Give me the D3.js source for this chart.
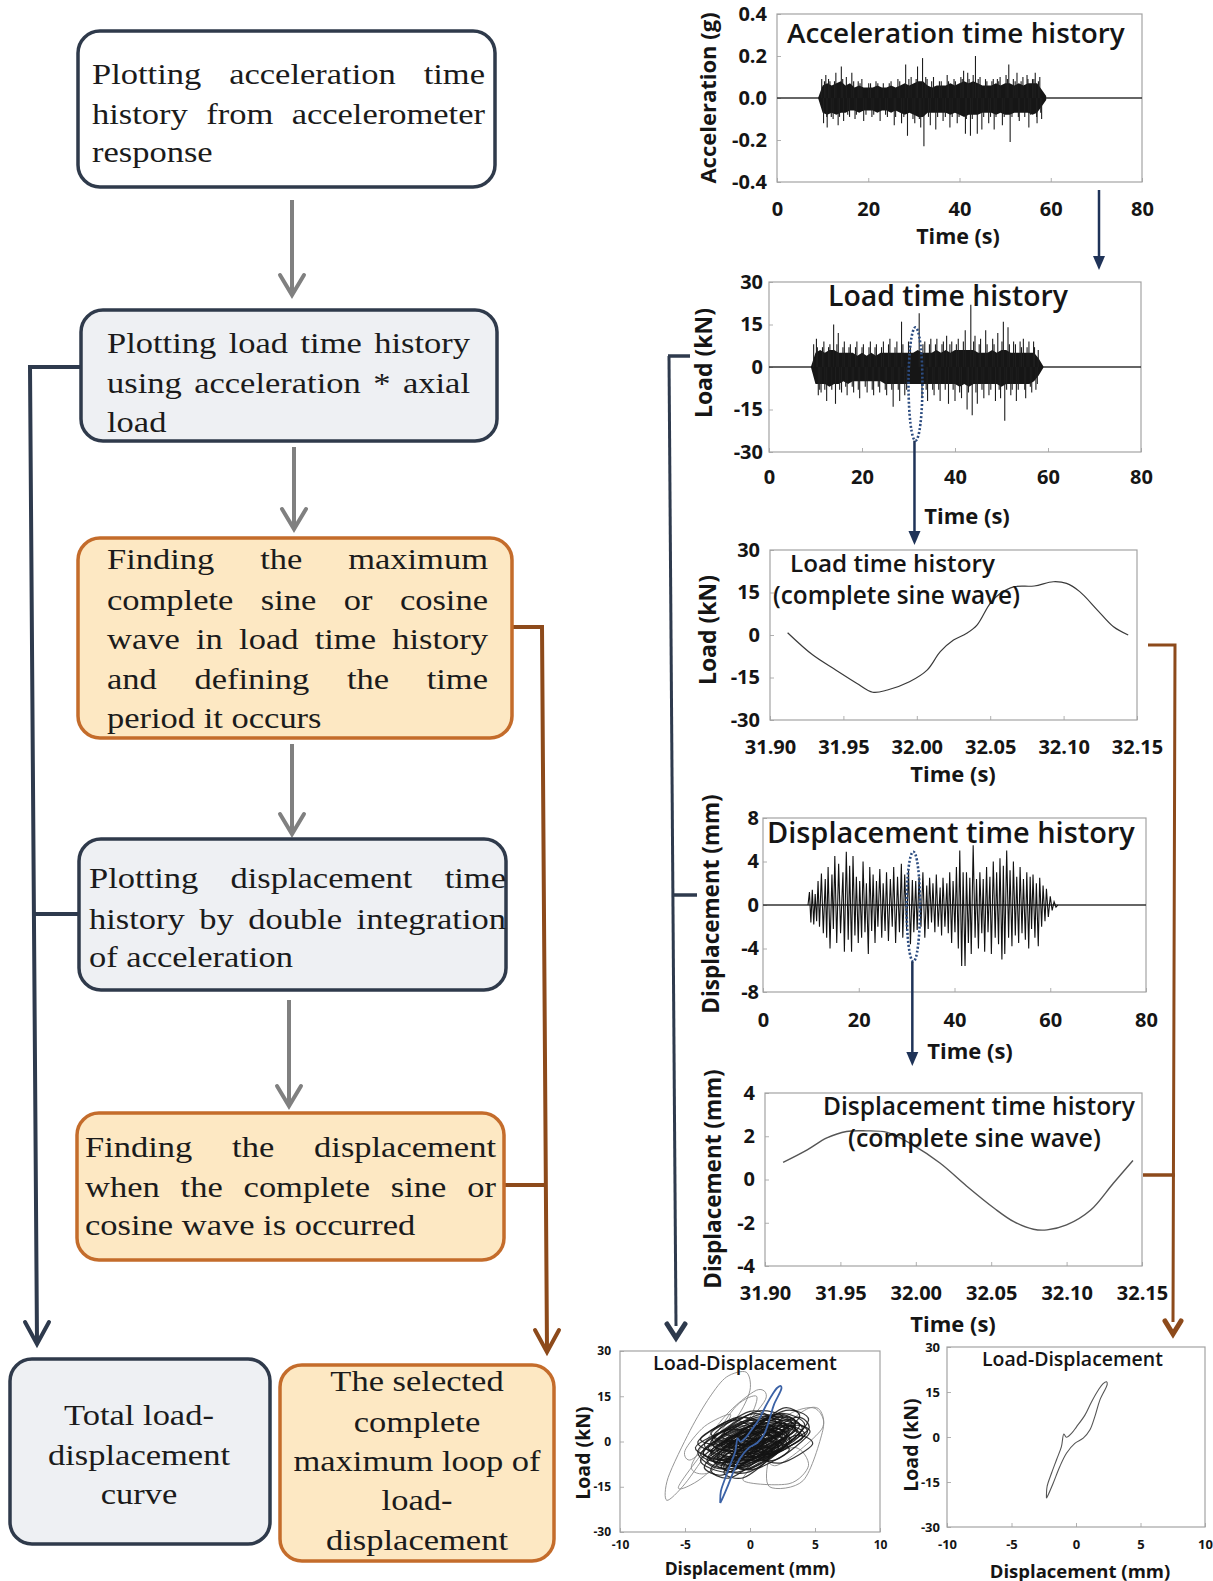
<!DOCTYPE html>
<html>
<head>
<meta charset="utf-8">
<script src="https://cdnjs.cloudflare.com/ajax/libs/d3/7.8.5/d3.min.js"></script>
<style>
  html, body { margin: 0; padding: 0; background: #ffffff; }
  svg { display: block; }
</style>
</head>
<body>
<script>
// ---------------- data ----------------
// Acceleration time history (g): dense band envelope sampled each second + peak spikes
const accEnvT = [9,10,11,12,13,14,15,16,17,18,19,20,21,22,23,24,25,26,27,28,29,30,31,32,33,34,35,36,37,38,39,40,41,42,43,44,45,46,47,48,49,50,51,52,53,54,55,56,57,58,59];
const accHi   = [0.00,0.06,0.07,0.06,0.07,0.08,0.06,0.07,0.05,0.06,0.05,0.05,0.05,0.06,0.05,0.05,0.06,0.05,0.06,0.07,0.06,0.07,0.08,0.08,0.06,0.05,0.06,0.06,0.06,0.07,0.06,0.07,0.08,0.07,0.08,0.07,0.06,0.06,0.06,0.07,0.06,0.07,0.07,0.06,0.07,0.06,0.07,0.07,0.07,0.04,0.01];
const accLo   = [0.00,-0.07,-0.08,-0.07,-0.08,-0.07,-0.07,-0.06,-0.06,-0.07,-0.06,-0.06,-0.06,-0.07,-0.06,-0.06,-0.07,-0.06,-0.07,-0.08,-0.07,-0.08,-0.09,-0.09,-0.07,-0.07,-0.07,-0.07,-0.07,-0.08,-0.07,-0.08,-0.09,-0.08,-0.08,-0.08,-0.07,-0.07,-0.07,-0.08,-0.07,-0.08,-0.08,-0.07,-0.07,-0.07,-0.07,-0.08,-0.07,-0.04,-0.01];
const accSpikes = [[9.8,0.09],[10.2,-0.12],[10.7,0.11],[11.0,-0.14],[11.6,0.08],[12.3,-0.10],[12.9,0.12],[13.4,-0.13],[14.1,0.15],[14.6,-0.11],[15.2,0.10],[15.9,-0.09],[16.4,0.12],[17.1,-0.10],[17.8,0.08],[18.6,0.09],[19.0,-0.11],[20.1,0.07],[20.8,-0.09],[21.7,0.08],[22.6,-0.11],[23.3,0.07],[24.2,-0.09],[25.0,0.08],[25.7,-0.13],[26.5,0.09],[27.3,-0.12],[28.2,0.16],[28.6,-0.18],[29.4,0.10],[30.2,-0.12],[30.8,0.15],[31.5,-0.14],[31.9,0.19],[32.2,-0.23],[32.9,0.09],[33.6,-0.13],[34.3,0.10],[34.8,-0.15],[35.6,0.08],[36.4,-0.11],[37.3,0.11],[37.9,-0.14],[38.8,0.09],[39.5,-0.12],[40.3,0.10],[40.9,0.13],[41.3,-0.17],[41.8,0.12],[42.4,-0.18],[43.0,0.11],[43.5,0.20],[43.9,-0.17],[44.5,0.10],[44.9,-0.15],[45.7,0.09],[46.4,-0.12],[47.1,0.08],[47.6,-0.15],[48.3,0.09],[48.9,0.10],[49.4,-0.13],[50.2,0.11],[50.8,0.16],[51.1,-0.21],[51.8,0.09],[52.6,0.12],[53.1,-0.11],[53.9,0.10],[54.8,0.11],[55.2,-0.14],[56.0,0.09],[56.6,0.12],[57.0,-0.12],[57.6,0.10],[58.0,-0.10],
  [10.4,0.08],[10.9,-0.09],[11.3,0.09],[11.9,-0.09],[12.6,0.08],[13.7,-0.09],[14.4,0.09],[15.5,-0.08],[16.8,0.08],[17.4,-0.08],[18.2,0.07],[19.5,-0.08],[20.5,0.07],[21.2,-0.08],[22.1,0.07],[23.8,-0.08],[24.6,0.07],[26.0,-0.09],[26.9,0.08],[27.8,-0.09],[28.9,0.09],[29.8,-0.10],[30.5,0.09],[31.2,-0.10],[32.6,0.10],[33.2,-0.09],[33.9,0.08],[35.2,-0.09],[36.0,0.08],[36.9,-0.09],[37.6,0.08],[38.4,-0.09],[39.1,0.08],[39.9,-0.09],[40.6,0.09],[41.5,-0.10],[42.1,0.09],[42.8,-0.10],[44.1,0.09],[45.3,-0.09],[46.0,0.08],[46.8,-0.09],[47.4,0.09],[48.0,-0.09],[48.6,0.08],[49.8,-0.09],[50.5,0.09],[51.5,-0.09],[52.2,0.08],[52.9,-0.09],[53.5,0.08],[54.3,-0.09],[55.0,0.09],[55.6,-0.08],[56.3,0.09],[56.9,-0.09],[57.3,0.08],[57.8,-0.07]];

// Load time history (kN)
const loadEnvT = accEnvT;
const loadHi = [0,5,6,5,6,6,5,5,5,5,4,5,4,5,4,5,5,5,5,5,5,5,5,6,5,5,5,6,5,6,5,6,6,6,6,6,5,5,5,6,5,6,6,5,5,5,5,5,5,3,0.3];
const loadLo = [0,-6,-6,-6,-7,-6,-6,-5,-6,-5,-5,-5,-5,-5,-5,-5,-6,-6,-6,-6,-6,-6,-6,-6,-6,-6,-6,-6,-6,-6,-6,-6,-7,-6,-7,-6,-6,-6,-6,-6,-6,-7,-6,-6,-6,-6,-6,-6,-5,-3,-0.3];
const loadSpikes = [[9.6,8],[10.2,10],[10.6,-10],[11.2,-9],[11.8,9],[12.4,-12],[13.1,8],[13.9,15],[14.3,-13],[14.9,12],[15.6,-9],[16.2,9],[16.8,-10],[17.5,8],[18.2,-9],[18.9,9],[19.5,-11],[20.3,8],[21.1,-9],[21.8,9],[22.5,-10],[23.1,8],[23.8,-9],[24.6,9],[25.3,-10],[26.0,10],[26.7,-14],[27.5,9],[28.1,-12],[28.5,16],[29.2,-10],[30.0,9],[32.3,19],[32.9,-11],[33.5,9],[34.1,-12],[34.8,10],[35.5,-10],[36.1,10],[36.8,-12],[37.5,9],[38.2,11],[38.6,-13],[39.3,9],[40.0,-12],[40.7,10],[41.4,-11],[42.2,13],[42.6,-15],[43.4,22],[43.7,-17],[44.3,11],[44.8,-13],[45.5,10],[46.2,-11],[46.6,13],[47.3,-10],[48.1,10],[48.7,-12],[49.2,12],[49.8,-11],[50.4,16],[50.7,-19],[51.4,14],[52.0,-10],[52.6,9],[53.2,-12],[54.0,9],[54.7,10],[55.2,-11],[55.9,9],[56.5,-9],[56.9,9],[57.4,-8],[57.9,6],
  [10.4,7],[10.9,-8],[11.5,7],[12.0,-8],[12.8,7],[13.5,-8],[14.6,8],[15.2,-8],[15.9,7],[16.5,-7],[17.2,7],[17.9,-7],[18.6,7],[19.2,-8],[20.0,7],[20.7,-7],[21.5,7],[22.2,-8],[22.8,7],[23.5,-7],[24.2,7],[25.0,-8],[25.7,8],[26.4,-8],[27.1,7],[27.8,-8],[28.8,8],[29.6,-8],[30.4,7],[33.1,8],[33.8,-8],[34.5,8],[35.2,-8],[35.8,8],[36.5,-8],[37.2,8],[37.9,-8],[38.9,8],[39.6,-8],[40.3,8],[41.0,-9],[41.8,9],[42.9,-9],[44.0,9],[44.5,-9],[45.2,8],[45.8,-8],[46.9,8],[47.7,-8],[48.4,8],[49.5,-8],[50.1,9],[51.1,-8],[51.7,8],[52.3,-8],[53.0,8],[53.6,-8],[54.3,7],[55.0,-8],[55.5,7],[56.2,-7],[57.1,7],[57.7,-6]];
const loadWindow = { t: [30.0, 33.0], v: [-26, 14] };   // selected cycle (dotted outline)

// Load time history, selected complete sine wave
const loadSineT = [31.912,31.929,31.945,31.959,31.970,31.980,31.995,32.007,32.016,32.025,32.034,32.041,32.050,32.057,32.066,32.080,32.093,32.102,32.111,32.123,32.134,32.144];
const loadSineV = [0.8,-7.0,-12.4,-17.0,-20.2,-19.4,-16.5,-12.4,-5.9,-1.8,0.6,3.5,11.2,14.7,17.0,17.3,18.8,18.2,15.3,8.8,2.9,0.0];

// Displacement time history (mm): successive peaks [t, value]
const dispPeaks = [[9.4,0],[9.7,1.2],[10.0,-1.6],[10.3,1.4],[10.6,-1.8],[10.9,1.0],[11.2,-1.5],[11.5,2.2],[11.8,-2.0],[12.2,2.9],[12.6,-2.6],[13.0,2.4],[13.3,-3.0],[13.6,3.5],[14.0,-4.0],[14.4,2.8],[14.7,-2.2],[15.0,4.5],[15.4,-3.5],[15.8,3.8],[16.2,-2.6],[16.7,3.0],[17.0,-4.3],[17.4,4.9],[17.8,-3.2],[18.1,3.6],[18.5,-4.3],[18.8,4.5],[19.2,-2.8],[19.5,2.6],[19.9,-3.5],[20.2,2.2],[20.6,-3.0],[20.9,4.0],[21.3,-2.5],[21.6,2.0],[22.0,-4.5],[22.3,3.5],[22.7,-2.4],[23.0,2.8],[23.4,-3.5],[23.7,2.2],[24.0,-2.0],[24.4,3.3],[24.8,-3.0],[25.1,2.0],[25.5,-2.4],[25.8,3.0],[26.2,-3.3],[26.6,2.4],[27.0,-2.0],[27.3,3.5],[27.7,-3.5],[28.1,2.6],[28.5,-2.5],[28.9,3.8],[29.2,-3.0],[29.6,2.8],[30.0,-2.2],[30.4,3.2],[30.8,-3.6],[31.2,2.3],[31.5,-2.5],[31.9,2.2],[32.2,-2.3],[32.6,2.6],[33.0,-2.0],[33.4,3.0],[33.8,-3.0],[34.2,1.8],[34.5,-2.2],[34.8,2.5],[35.2,-1.6],[35.5,2.0],[35.9,-2.5],[36.2,2.8],[36.6,-2.0],[37.0,1.6],[37.3,-2.8],[37.6,2.5],[38.0,-2.0],[38.4,2.0],[38.7,-2.6],[39.0,3.0],[39.4,-3.5],[39.7,2.2],[40.1,-2.5],[40.4,3.5],[40.8,-4.0],[41.1,5.0],[41.5,-5.6],[41.8,3.0],[42.2,-5.6],[42.5,3.0],[42.9,-3.5],[43.2,2.5],[43.5,-4.5],[43.9,5.5],[44.3,-3.0],[44.6,2.4],[45.0,-4.0],[45.3,3.0],[45.7,-2.6],[46.0,2.4],[46.3,-4.3],[46.7,3.5],[47.0,-2.5],[47.4,2.6],[47.7,-4.5],[48.1,4.0],[48.5,-3.0],[48.8,3.0],[49.2,-3.6],[49.5,4.3],[49.9,-5.0],[50.2,3.6],[50.5,-4.5],[50.9,5.0],[51.3,-3.0],[51.6,3.2],[52.0,-3.8],[52.3,4.0],[52.7,-2.8],[53.0,2.6],[53.4,-3.5],[53.7,3.5],[54.1,-2.6],[54.4,2.4],[54.8,-3.2],[55.1,3.0],[55.5,-4.0],[55.8,2.6],[56.1,-2.2],[56.4,2.8],[56.8,-3.0],[57.1,2.0],[57.5,-3.8],[57.8,2.5],[58.2,-2.0],[58.5,1.8],[58.9,-1.5],[59.2,1.5],[59.6,-1.1],[60.0,0.8],[60.4,-0.5],[60.8,0.3],[61.2,-0.2],[61.6,0]];
const dispWindow = { t: [30.0, 32.8], v: [-5.2, 4.9] };

// Displacement, selected complete sine wave
const dispSineT = [31.912,31.928,31.941,31.954,31.967,31.981,31.998,32.016,32.034,32.052,32.065,32.078,32.087,32.100,32.116,32.131,32.144];
const dispSineV = [0.79,1.37,1.92,2.22,2.25,2.18,1.60,0.76,-0.32,-1.33,-1.95,-2.30,-2.33,-2.10,-1.41,-0.17,0.88];

// Selected load-displacement loop
const loopDisp = [-2.29,-2.24,-1.90,-1.51,-1.13,-0.94,-0.74,-0.35,0.04,0.69,1.20,1.72,2.10,2.37,2.42,1.85,1.46,1.07,0.56,-0.09,-0.74,-1.26,-1.77,-2.16,-2.29];
const loopLoad = [-20.4,-16.5,-12.1,-7.6,-3.2,1.0,-0.1,1.2,3.4,7.3,11.7,15.6,17.8,18.4,17.6,12.3,6.8,2.3,-0.4,-2.1,-5.4,-9.9,-15.4,-19.3,-20.4];

// All load-displacement cycles: inner cycles (disp, load) and outer cycles
const innerCycles = [
  [[-3.5,-1],[-0.5,6],[2.5,3],[-1,-6]],   [[-2.5,-5],[1,8],[3.5,6],[0,-8]],
  [[-4,-3],[-1,5],[1.5,2],[-2,-9]],       [[-1.5,-3],[2,9],[4.2,5],[1,-6]],
  [[-3,0],[0,9],[2,6],[-1,-3]],           [[-2,-8],[1.5,4],[3,0],[0,-10]],
  [[-3.8,-6],[-0.5,3],[1,-1],[-1.5,-10]], [[-1,-1],[2.5,10],[4.5,7],[2,-3]],
  [[-2.8,2],[0,10],[1.5,7],[-0.8,-2]],    [[-3,-4],[1,5],[3.8,2],[0,-7]],
  [[-2,-2],[2,6],[4,1],[0.5,-5]],         [[-4.2,-2],[-1.5,4],[0.5,1],[-2,-6]],
  [[-1.5,-6],[1,2],[2.5,-2],[0,-9]],      [[-2.5,1],[1,7],[3,4],[0,-1]],
  [[-3.5,-8],[-1,0],[0.5,-3],[-2,-11]],   [[0,-4],[3,5],[4.6,3],[2,-6]],
  [[-2.2,-4],[0.5,3],[2,0],[-0.5,-6]],    [[-3,3],[-0.5,8],[1,5],[-1.5,0]],
  [[-1,2],[2,9],[3.5,6],[1,0]],           [[-2,-10],[0,-2],[1.5,-5],[-0.5,-12]],
  [[-3.2,-5],[0,4],[2.8,1],[-0.5,-8]],    [[-1.8,0],[1.5,8],[3.2,6],[0.5,-2]],
  [[-4,0],[-1.5,7],[0,4],[-2.5,-3]],      [[0.5,0],[3.5,8],[4.5,4],[2,-2]],
  [[-2.6,-7],[0.5,1],[2.2,-3],[-1,-9]],   [[-1.2,-3],[1.5,4],[3,2],[0.5,-5]],
  [[-3,-3],[-0.5,3],[1.2,0],[-1.5,-6]],   [[-2,3],[0.5,10],[2.5,8],[0,2]],
  [[1,-5],[3.5,2],[4.8,-1],[2.5,-7]],     [[-3.6,-4],[0,7],[3.5,5],[0,-6]],
  [[-2.2,-1],[1,5],[2.8,2],[-0.2,-4]],    [[-1,-8],[1.5,0],[3,-3],[0.5,-9]],
  [[-3,-9],[-0.5,-1],[1,-4],[-1.5,-12]],  [[0,2],[2.5,11],[3.8,8],[1.5,1]],
  [[-2.5,-3],[1,6],[3.5,4],[0,-5]],       [[-1.5,-5],[1,4],[2.5,1],[-0.5,-7]],
  [[-3.8,1],[-1,8],[0.5,5],[-2,-1]],      [[-0.5,-2],[2.5,7],[4,4],[1.5,-4]],
  [[-2.8,-6],[0,3],[2,0],[-1,-8]],        [[-1.8,1],[1.2,7],[2.6,4],[0,-1]],
  [[-3.2,-2],[0,5],[2.2,2],[-0.8,-5]],    [[-2,-4],[1.8,5],[3.6,3],[0.2,-6]],
  [[-2.8,-1],[0.5,8],[2.8,5],[-0.5,-3]],  [[-1.2,-7],[1.2,2],[2.8,-1],[0,-9]],
  [[-3.6,-3],[-0.8,4],[1,1],[-1.8,-7]],   [[-0.8,0],[2.2,8],[3.8,5],[1.2,-2]],
  [[-2.4,-5],[0.8,3],[2.6,0],[-0.4,-7]],  [[-1.6,-2],[1.2,6],[3,3],[0.2,-4]],
  [[-2.9,1],[-0.2,7],[1.8,4],[-1.2,-2]],  [[-1.8,-6],[0.6,1],[2.2,-2],[-0.6,-8]],
  [[-0.2,-3],[2.6,5],[4.2,2],[1.4,-5]],   [[-3.3,-6],[-0.6,1],[1.4,-2],[-1.4,-9]],
  [[-2.2,2],[0.8,9],[2.4,6],[-0.2,0]],    [[-1,-4],[1.6,3],[3.2,0],[0.6,-6]],
  [[-2.6,-2],[0.2,5],[2,2],[-0.8,-4]],    [[0.5,-2],[3,6],[4.4,3],[2,-4]],
  [[-3.8,-4],[-1.2,2],[0.4,-1],[-2,-7]],  [[-1.4,1],[1.6,8],[3.4,5],[0.6,-1]],
  [[-2.2,-8],[0.2,-1],[1.8,-4],[-0.8,-10]], [[-1.6,-1],[1,4],[2.4,1],[-0.2,-3]]
];
const outerCycles = [
  [[-6.4,-19.5],[-6.3,-12],[-4.6,3.7],[-3.1,14.7],[-1.8,21.4],[-0.3,23],[0,17],[-1,8],[-3,-2],[-5,-14]],
  [[-5.5,-15],[-3,0],[-1,12],[0.5,15],[0,8],[-2,-5],[-4,-13]],
  [[1.5,-15],[4.1,-12.9],[5.6,3.7],[5.4,10.3],[4.5,11],[3,6],[1.5,-5]],
  [[2,-8],[5.5,4],[5,11],[3,9],[1,0]],
  [[-4.5,-8],[-2,8],[0.5,17],[1.2,14],[-1,2],[-3,-10]],
  [[-0.5,-13],[3,-14],[4.5,-8],[3.5,-2],[1,-6]],
  [[-5,-3],[-3.5,5],[-1.5,9],[-2.5,2],[-4.5,-6]]
];

// Tick values
const timeTicks = [0, 20, 40, 60, 80];
const zoomTimeTicks = [31.90, 31.95, 32.00, 32.05, 32.10, 32.15];
const accTicks = [-0.4, -0.2, 0, 0.2, 0.4];
const loadTicks = [-30, -15, 0, 15, 30];
const dispTicks = [-8, -4, 0, 4, 8];
const dispZoomTicks = [-4, -2, 0, 2, 4];
const ldDispTicks = [-10, -5, 0, 5, 10];

// Flowchart text
const stepTexts = [
  ["Plotting acceleration time", "history from accelerometer", "response"],
  ["Plotting load time history", "using acceleration * axial", "load"],
  ["Finding the maximum", "complete sine or cosine", "wave in load time history", "and defining the time", "period it occurs"],
  ["Plotting displacement time", "history by double integration", "of acceleration"],
  ["Finding the displacement", "when the complete sine or", "cosine wave is occurred"],
  ["Total load-", "displacement", "curve"],
  ["The selected", "complete", "maximum loop of", "load-", "displacement"]
];

// ---------------- style ----------------
const SANS = "'Open Sans', 'Noto Sans', sans-serif";
const SERIF = "'Liberation Serif', 'Times New Roman', serif";
const INK = "#151515";
const BOX_NAVY = "#2f3a4b";
const BOX_ORANGE = "#c46c2b";
const FILL_GRAY = "#eef0f3";
const FILL_PEACH = "#fde8c3";
const ARROW_GRAY = "#808080";
const LINK_NAVY = "#2e3a4d";
const LINK_BROWN = "#8d4a1b";
const CHART_NAVY = "#1f3358";
const DOT_BLUE = "#2c4c80";

const svg = d3.select("body").append("svg").attr("width", 1213).attr("height", 1581);

// ---------------- helpers ----------------
function chevron(g, x, y, hw, h, color, sw) {
  g.append("path").attr("d", `M${x - hw},${y - h} L${x},${y} L${x + hw},${y - h}`)
    .attr("fill", "none").attr("stroke", color).attr("stroke-width", sw)
    .attr("stroke-linejoin", "miter").attr("stroke-linecap", "round");
}
function triangle(g, x, y, hw, h, color) {
  g.append("path").attr("d", `M${x - hw},${y - h} L${x},${y} L${x + hw},${y - h} Z`).attr("fill", color);
}
function seg(g, pts, color, sw) {
  g.append("path").attr("d", d3.line()(pts)).attr("fill", "none")
    .attr("stroke", color).attr("stroke-width", sw).attr("stroke-linejoin", "miter");
}
function fitText(g, str, x0, x1, base, weight) {
  const t = g.append("text").attr("x", x0).attr("y", base)
    .attr("font-family", SANS).attr("font-weight", weight).attr("font-size", 20)
    .attr("fill", INK).text(str);
  const w = t.node().getComputedTextLength();
  t.attr("font-size", 20 * (x1 - x0) / w);
  return t;
}

function chart(c) {
  const x = d3.scaleLinear().domain(c.xDomain).range([c.left, c.right]);
  const y = d3.scaleLinear().domain(c.yDomain).range([c.bottom, c.top]);
  const g = svg.append("g");

  const ax = g.append("g").attr("transform", `translate(0,${c.bottom})`)
    .call(d3.axisBottom(x).tickValues(c.xTicks).tickFormat(c.xFmt)
      .tickSizeInner(-4).tickSizeOuter(0).tickPadding(c.xPad));
  const ay = g.append("g").attr("transform", `translate(${c.left},0)`)
    .call(d3.axisLeft(y).tickValues(c.yTicks).tickFormat(c.yFmt)
      .tickSizeInner(-4).tickSizeOuter(0).tickPadding(c.yPad));
  [ax, ay].forEach(a => {
    a.select(".domain").remove();
    a.selectAll("line").attr("stroke", "#b0b0b0");
    a.selectAll("text").attr("font-family", SANS).attr("font-weight", 700)
      .attr("font-size", c.tickFs).attr("fill", INK);
  });

  g.append("rect").attr("x", c.left).attr("y", c.top)
    .attr("width", c.right - c.left).attr("height", c.bottom - c.top)
    .attr("fill", "none").attr("stroke", "#a3a3a3").attr("stroke-width", 1.2);

  const plot = g.append("g");

  g.append("text").attr("x", c.xTitle[0]).attr("y", c.xTitle[1])
    .attr("text-anchor", "middle").attr("dominant-baseline", "central")
    .attr("font-family", SANS).attr("font-weight", 700).attr("font-size", c.xTitleFs)
    .attr("fill", INK).text(c.xLabel);
  g.append("text").attr("transform", `translate(${c.yTitle[0]},${c.yTitle[1]}) rotate(-90)`)
    .attr("text-anchor", "middle").attr("dominant-baseline", "central")
    .attr("font-family", SANS).attr("font-weight", 700).attr("font-size", c.yTitleFs)
    .attr("fill", INK).text(c.yLabel);

  return { g, plot, x, y };
}

const fmt1 = d => d.toFixed(1);
const fmt2 = d => d.toFixed(2);
const fmt0 = d => String(d);

// ---------------- flowchart links (under boxes) ----------------
const links = svg.append("g");

// gray step arrows
[[292, 200, 295], [294, 447, 529], [292, 744, 834], [289, 1000, 1106]].forEach(([ax, y0, y1]) => {
  seg(links, [[ax, y0], [ax, y1 - 2]], ARROW_GRAY, 4);
  chevron(links, ax, y1, 12, 20, ARROW_GRAY, 4);
});

// navy branch to total curve
seg(links, [[81, 367], [30, 367], [37, 1342]], LINK_NAVY, 4);
seg(links, [[33, 914], [79, 914]], LINK_NAVY, 4);
chevron(links, 37, 1344, 12, 22, LINK_NAVY, 4);

// brown branch to selected loop
seg(links, [[512, 627], [542, 627], [547, 1350]], LINK_BROWN, 4);
seg(links, [[504, 1185], [545, 1185]], LINK_BROWN, 4);
chevron(links, 547, 1352, 12, 22, LINK_BROWN, 4);

// ---------------- flowchart boxes ----------------
const FS = 30, SX = 1.15;
const boxLayout = [
  { x: 78, y: 31, w: 417, h: 156, fill: "#ffffff", stroke: BOX_NAVY, align: "justify", x0: 92, x1: 485, base: [84, 124, 162] },
  { x: 81, y: 310, w: 416, h: 131, fill: FILL_GRAY, stroke: BOX_NAVY, align: "justify", x0: 107, x1: 470, base: [353, 393, 432] },
  { x: 78, y: 538, w: 434, h: 200, fill: FILL_PEACH, stroke: BOX_ORANGE, align: "justify", x0: 107, x1: 488, base: [569, 610, 649, 689, 728] },
  { x: 79, y: 839, w: 427, h: 151, fill: FILL_GRAY, stroke: BOX_NAVY, align: "justify", x0: 89, x1: 506, base: [888, 929, 967] },
  { x: 77, y: 1113, w: 427, h: 147, fill: FILL_PEACH, stroke: BOX_ORANGE, align: "justify", x0: 85, x1: 496, base: [1157, 1197, 1235] },
  { x: 10, y: 1359, w: 260, h: 185, fill: FILL_GRAY, stroke: BOX_NAVY, align: "center", cx: 139, base: [1425, 1465, 1504] },
  { x: 280, y: 1365, w: 274, h: 196, fill: FILL_PEACH, stroke: BOX_ORANGE, align: "center", cx: 417, base: [1391, 1432, 1471, 1510, 1550] }
];

const boxes = svg.append("g");
boxLayout.forEach((b, bi) => {
  boxes.append("rect").attr("x", b.x).attr("y", b.y).attr("width", b.w).attr("height", b.h)
    .attr("rx", 22).attr("ry", 22).attr("fill", b.fill)
    .attr("stroke", b.stroke).attr("stroke-width", 3.5);
  const tg = boxes.append("g").attr("font-family", SERIF).attr("font-size", FS).attr("fill", "#1b1b1b");
  const lines = stepTexts[bi];
  lines.forEach((line, i) => {
    const words = line.split(" ");
    const ox = b.align === "center" ? b.cx : b.x0;
    const lg = tg.append("g").attr("transform", `translate(${ox},${b.base[i]}) scale(${SX},1)`);
    const ts = words.map(w => lg.append("text").text(w));
    const ws = ts.map(t => t.node().getComputedTextLength());
    const space = FS * 0.25;
    const natural = d3.sum(ws) + space * (words.length - 1);
    let gap = space, cur = 0;
    if (b.align === "center") cur = -natural / 2;
    else if (i < lines.length - 1 && words.length > 1) gap = ((b.x1 - b.x0) / SX - d3.sum(ws)) / (words.length - 1);
    ts.forEach((t, k) => { t.attr("x", cur); cur += ws[k] + gap; });
  });
});

// ---------------- chart A: acceleration ----------------
const A = chart({
  left: 777, right: 1142, top: 14, bottom: 182,
  xDomain: [0, 80], yDomain: [-0.4, 0.4], xTicks: timeTicks, yTicks: accTicks,
  xFmt: fmt0, yFmt: fmt1, tickFs: 20, xPad: 20, yPad: 10,
  xLabel: "Time (s)", xTitle: [958, 235], xTitleFs: 21.5,
  yLabel: "Acceleration (g)", yTitle: [707, 98], yTitleFs: 22
});
A.plot.append("path").attr("d", d3.line()([[A.x(0), A.y(0)], [A.x(80), A.y(0)]]))
  .attr("stroke", "#333").attr("stroke-width", 1.3);
A.plot.append("path")
  .datum(accEnvT.map((t, i) => [t, accHi[i], accLo[i]]))
  .attr("d", d3.area().x(d => A.x(d[0])).y0(d => A.y(d[2])).y1(d => A.y(d[1])))
  .attr("fill", "#161616");
A.plot.selectAll("line.spk").data(accSpikes).join("line")
  .attr("x1", d => A.x(d[0])).attr("x2", d => A.x(d[0]))
  .attr("y1", A.y(0)).attr("y2", d => A.y(d[1]))
  .attr("stroke", "#1e1e1e").attr("stroke-width", 1.1);
fitText(A.g, "Acceleration time history", 787, 1125, 43, 600);

// ---------------- chart B: load ----------------
const B = chart({
  left: 769, right: 1141, top: 282, bottom: 452,
  xDomain: [0, 80], yDomain: [-30, 30], xTicks: timeTicks, yTicks: loadTicks,
  xFmt: fmt0, yFmt: fmt0, tickFs: 20, xPad: 18, yPad: 6,
  xLabel: "Time (s)", xTitle: [967, 515], xTitleFs: 22,
  yLabel: "Load (kN)", yTitle: [703, 363], yTitleFs: 23
});
B.plot.append("path").attr("d", d3.line()([[B.x(0), B.y(0)], [B.x(80), B.y(0)]]))
  .attr("stroke", "#333").attr("stroke-width", 1.3);
B.plot.append("path")
  .datum(loadEnvT.map((t, i) => [t, loadHi[i], loadLo[i]]))
  .attr("d", d3.area().x(d => B.x(d[0])).y0(d => B.y(d[2])).y1(d => B.y(d[1])))
  .attr("fill", "#161616");
B.plot.selectAll("line.spk").data(loadSpikes).join("line")
  .attr("x1", d => B.x(d[0])).attr("x2", d => B.x(d[0]))
  .attr("y1", B.y(0)).attr("y2", d => B.y(d[1]))
  .attr("stroke", "#1e1e1e").attr("stroke-width", 1.1);
fitText(B.g, "Load time history", 828, 1068, 306, 600);
{
  const cx = B.x((loadWindow.t[0] + loadWindow.t[1]) / 2), cy = B.y((loadWindow.v[0] + loadWindow.v[1]) / 2);
  const rx = (B.x(loadWindow.t[1]) - B.x(loadWindow.t[0])) / 2, ry = (B.y(loadWindow.v[0]) - B.y(loadWindow.v[1])) / 2;
  B.g.append("ellipse").attr("cx", cx).attr("cy", cy).attr("rx", rx).attr("ry", ry)
    .attr("fill", "none").attr("stroke", DOT_BLUE).attr("stroke-width", 2.6).attr("stroke-dasharray", "2 2");
  seg(svg, [[cx - 1, B.y(loadWindow.v[0])], [cx - 1, 532]], CHART_NAVY, 2.5);
  triangle(svg, cx - 1, 545, 6, 14, CHART_NAVY);
}

// ---------------- chart C: load, selected sine ----------------
const C = chart({
  left: 770, right: 1137, top: 550, bottom: 720,
  xDomain: [31.90, 32.15], yDomain: [-30, 30], xTicks: zoomTimeTicks, yTicks: loadTicks,
  xFmt: fmt2, yFmt: fmt0, tickFs: 20, xPad: 20, yPad: 10,
  xLabel: "Time (s)", xTitle: [953, 773], xTitleFs: 22,
  yLabel: "Load (kN)", yTitle: [707, 630], yTitleFs: 23
});
C.plot.append("path").datum(loadSineT.map((t, i) => [t, loadSineV[i]]))
  .attr("d", d3.line().x(d => C.x(d[0])).y(d => C.y(d[1])).curve(d3.curveCatmullRom.alpha(0.5)))
  .attr("fill", "none").attr("stroke", "#3a3a3a").attr("stroke-width", 1.2);
fitText(C.g, "Load time history", 790, 995, 572, 600);
fitText(C.g, "(complete sine wave)", 773, 1020, 604, 600);

// ---------------- chart D: displacement ----------------
const D = chart({
  left: 763, right: 1146, top: 818, bottom: 992,
  xDomain: [0, 80], yDomain: [-8, 8], xTicks: timeTicks, yTicks: dispTicks,
  xFmt: fmt0, yFmt: fmt0, tickFs: 20, xPad: 21, yPad: 4,
  xLabel: "Time (s)", xTitle: [970, 1050], xTitleFs: 22,
  yLabel: "Displacement (mm)", yTitle: [710, 904], yTitleFs: 22.5
});
D.plot.append("path").attr("d", d3.line()([[D.x(0), D.y(0)], [D.x(80), D.y(0)]]))
  .attr("stroke", "#333").attr("stroke-width", 1.3);
D.plot.append("path").datum(dispPeaks)
  .attr("d", d3.line().x(d => D.x(d[0])).y(d => D.y(d[1])))
  .attr("fill", "none").attr("stroke", "#111").attr("stroke-width", 1.1);
fitText(D.g, "Displacement time history", 767, 1135, 843, 600);
{
  const cx = D.x((dispWindow.t[0] + dispWindow.t[1]) / 2), cy = D.y((dispWindow.v[0] + dispWindow.v[1]) / 2);
  const rx = (D.x(dispWindow.t[1]) - D.x(dispWindow.t[0])) / 2, ry = (D.y(dispWindow.v[0]) - D.y(dispWindow.v[1])) / 2;
  D.g.append("ellipse").attr("cx", cx).attr("cy", cy).attr("rx", rx).attr("ry", ry)
    .attr("fill", "none").attr("stroke", DOT_BLUE).attr("stroke-width", 2.6).attr("stroke-dasharray", "2 2");
  seg(svg, [[cx - 1, D.y(dispWindow.v[0])], [cx - 1, 1053]], CHART_NAVY, 2.5);
  triangle(svg, cx - 1, 1066, 6, 14, CHART_NAVY);
}

// ---------------- chart E: displacement, selected sine ----------------
const E = chart({
  left: 765, right: 1142, top: 1093, bottom: 1266,
  xDomain: [31.90, 32.15], yDomain: [-4, 4], xTicks: zoomTimeTicks, yTicks: dispZoomTicks,
  xFmt: fmt2, yFmt: fmt0, tickFs: 20, xPad: 20, yPad: 10,
  xLabel: "Time (s)", xTitle: [953, 1323], xTitleFs: 22,
  yLabel: "Displacement (mm)", yTitle: [712, 1179], yTitleFs: 22.5
});
E.plot.append("path").datum(dispSineT.map((t, i) => [t, dispSineV[i]]))
  .attr("d", d3.line().x(d => E.x(d[0])).y(d => E.y(d[1])).curve(d3.curveCatmullRom.alpha(0.5)))
  .attr("fill", "none").attr("stroke", "#555").attr("stroke-width", 1.4);
fitText(E.g, "Displacement time history", 823, 1135, 1115, 600);
fitText(E.g, "(complete sine wave)", 848, 1101, 1147, 600);

// ---------------- chart F: all load-displacement cycles ----------------
const F = chart({
  left: 620, right: 880, top: 1351, bottom: 1532,
  xDomain: [-10, 10], yDomain: [-30, 30], xTicks: ldDispTicks, yTicks: loadTicks,
  xFmt: fmt0, yFmt: fmt0, tickFs: 12, xPad: 8, yPad: 9,
  xLabel: "Displacement (mm)", xTitle: [750, 1568], xTitleFs: 17.5,
  yLabel: "Load (kN)", yTitle: [582, 1453], yTitleFs: 19.5
});
const cyc = d3.line().x(d => F.x(d[0])).y(d => F.y(d[1])).curve(d3.curveCardinalClosed.tension(0.1));
F.plot.selectAll("path.outer").data(outerCycles).join("path")
  .attr("d", cyc).attr("fill", "none").attr("stroke", "#8a8a8a").attr("stroke-width", 0.9);
F.plot.selectAll("path.inner").data(innerCycles).join("path")
  .attr("d", cyc).attr("fill", "none").attr("stroke", "#141414").attr("stroke-width", 1.2).attr("stroke-opacity", 0.85);
F.plot.append("path").datum(loopDisp.map((d, i) => [d, loopLoad[i]]))
  .attr("d", d3.line().x(d => F.x(d[0])).y(d => F.y(d[1])).curve(d3.curveCatmullRom.alpha(0.5)))
  .attr("fill", "none").attr("stroke", "#3b62a6").attr("stroke-width", 1.8);
fitText(F.g, "Load-Displacement", 653, 837, 1370, 600);

// ---------------- chart G: selected loop ----------------
const G = chart({
  left: 947, right: 1205, top: 1347, bottom: 1527,
  xDomain: [-10, 10], yDomain: [-30, 30], xTicks: ldDispTicks, yTicks: loadTicks,
  xFmt: fmt0, yFmt: fmt0, tickFs: 13, xPad: 13, yPad: 7,
  xLabel: "Displacement (mm)", xTitle: [1080, 1570], xTitleFs: 18.5,
  yLabel: "Load (kN)", yTitle: [910, 1445], yTitleFs: 19.5
});
G.plot.append("path").datum(loopDisp.map((d, i) => [d, loopLoad[i]]))
  .attr("d", d3.line().x(d => G.x(d[0])).y(d => G.y(d[1])).curve(d3.curveCatmullRom.alpha(0.5)))
  .attr("fill", "none").attr("stroke", "#555").attr("stroke-width", 1.1);
fitText(G.g, "Load-Displacement", 982, 1163, 1366, 600);

// ---------------- right-hand links ----------------
const rl = svg.append("g");
// acceleration -> load
seg(rl, [[1099, 190], [1099, 258]], CHART_NAVY, 2.5);
triangle(rl, 1099, 270, 6, 14, CHART_NAVY);
// load & displacement histories -> all cycles
seg(rl, [[669, 356], [676, 1326]], LINK_NAVY, 3);
seg(rl, [[668, 356], [690, 356]], LINK_NAVY, 3.5);
seg(rl, [[672, 895], [697, 895]], LINK_NAVY, 3.5);
chevron(rl, 676, 1338, 9, 14, LINK_NAVY, 5);
// selected sine waves -> selected loop
seg(rl, [[1148, 645], [1175, 645], [1173, 1322]], LINK_BROWN, 3);
seg(rl, [[1143, 1175], [1175, 1175]], LINK_BROWN, 3.5);
chevron(rl, 1173, 1334, 8, 13, LINK_BROWN, 5);
</script>
</body>
</html>
